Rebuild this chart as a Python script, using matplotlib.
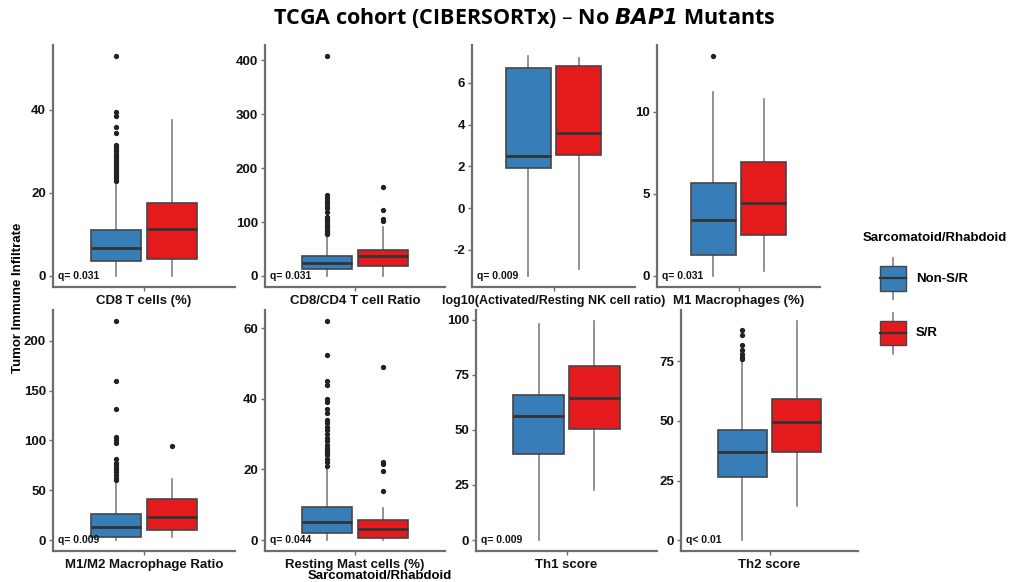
import matplotlib.pyplot as plt
from matplotlib.patches import Rectangle, Patch
from matplotlib.lines import Line2D
from matplotlib.legend_handler import HandlerBase

# -----------------------------
# Data
# -----------------------------
panel_names = ["CD8 T cells (%)", "CD8/CD4 T cell Ratio",
               "log10(Activated/Resting NK cell ratio)", "M1 Macrophages (%)",
               "M1/M2 Macrophage Ratio", "Resting Mast cells (%)",
               "Th1 score", "Th2 score"]
q_labels = ["q= 0.031", "q= 0.031", "q= 0.009", "q= 0.031",
            "q= 0.009", "q= 0.044", "q= 0.009", "q< 0.01"]
y_ticks = [[0, 20, 40], [0, 100, 200, 300, 400], [-2, 0, 2, 4, 6], [0, 5, 10],
           [0, 50, 100, 150, 200], [0, 20, 40, 60], [0, 25, 50, 75, 100],
           [0, 25, 50, 75]]

# (whislo, q1, median, q3, whishi)
nonsr_stats = [(0, 3.6, 6.7, 11.0, 22.5),
               (0, 13.5, 24, 38, 76),
               (-3.25, 1.9, 2.51, 6.72, 7.28),
               (0, 1.25, 3.44, 5.66, 11.23),
               (0, 3.3, 13, 25.9, 57),
               (0, 1.9, 5.1, 9.4, 20.8),
               (0, 39.2, 56.4, 66, 97.9),
               (0, 26.3, 36.9, 46.2, 75.2)]
sr_stats = [(0, 4.0, 11.4, 17.7, 37.7),
            (0, 17.7, 38, 48, 90.5),
            (-2.93, 2.56, 3.59, 6.82, 7.19),
            (0.28, 2.51, 4.45, 6.96, 10.81),
            (2.7, 10, 23.3, 40.9, 60.8),
            (0, 0.7, 3.0, 5.6, 9.1),
            (22.6, 50.2, 64.5, 79, 99.4),
            (14.5, 36.8, 49.7, 59.1, 92)]
nonsr_fliers = [[23, 23.5, 24, 24.5, 25, 25.5, 26, 26.5, 27, 27.5, 28, 28.5, 29,
                 29.5, 30, 30.5, 31, 31.5, 34.5, 36, 38.5, 39.5, 53],
                [78, 80, 83, 86, 90, 93, 96, 100, 103, 106, 110, 118, 126, 130,
                 135, 140, 145, 150, 408],
                [],
                [13.4],
                [60, 62, 65, 68, 70, 72, 75, 77, 81, 97, 100, 103, 132, 160, 220],
                [21, 22, 23, 24, 25, 25.5, 26, 27, 28, 29, 30, 31, 32, 33, 34, 36,
                 37, 39, 40, 44, 45, 52.5, 62],
                [],
                [76, 77, 78, 80, 82, 86, 88]]
sr_fliers = [[], [102, 106, 122, 165], [], [], [94], [14, 19.5, 21.5, 22, 49], [], []]

group_labels = ["Non-S/R", "S/R"]
group_colors = ["#377EB8", "#E41A1C"]

# -----------------------------
# Layout (pixel boxes of each panel: left, right, top, bottom)
# -----------------------------
W, H = 1018, 582
boxes_px = [(53, 235, 45, 287), (265, 445, 45, 287), (472, 635, 45, 287), (657, 820, 45, 287),
            (53, 235, 310, 551), (265, 445, 310, 551), (476, 657, 310, 551), (681, 858, 310, 551)]
label_sizes = [9.5, 9.5, 9.0, 9.5, 9.5, 9.5, 9.5, 9.5]

plt.rcParams['font.family'] = ['Liberation Sans', 'DejaVu Sans']
plt.rcParams['font.weight'] = 'bold'
plt.rcParams['axes.unicode_minus'] = False

fig = plt.figure(figsize=(W / 100, H / 100), dpi=100)

spine_col = "#6e6e6e"
edge_col = "#454545"
whisk_col = "#7f7f7f"

for i in range(8):
    l, r, t, b = boxes_px[i]
    ax = fig.add_axes([l / W, 1 - b / H, (r - l) / W, (b - t) / H])

    stats = []
    for s, fl in [(nonsr_stats[i], nonsr_fliers[i]), (sr_stats[i], sr_fliers[i])]:
        stats.append(dict(whislo=s[0], q1=s[1], med=s[2], q3=s[3], whishi=s[4], fliers=fl))

    bp = ax.bxp(stats, positions=[0.815, 1.185], widths=0.335, patch_artist=True,
                showcaps=False,
                boxprops=dict(edgecolor=edge_col, linewidth=1.2),
                medianprops=dict(color="#333333", linewidth=2.0),
                whiskerprops=dict(color=whisk_col, linewidth=1.2),
                flierprops=dict(marker='o', markersize=2.8, markerfacecolor='#222222',
                                markeredgecolor='#222222'))
    for patch, c in zip(bp['boxes'], group_colors):
        patch.set_facecolor(c)
    for w in bp['whiskers']:
        w.set_zorder(0.5)

    # ggplot-like 5% expansion
    vals = [v for s in stats for v in (s['whislo'], s['whishi'])] + \
           [v for s in stats for v in s['fliers']]
    lo, hi = min(vals), max(vals)
    pad = 0.05 * (hi - lo)
    ax.set_ylim(lo - pad, hi + pad)
    ax.set_xlim(0.4, 1.6)
    ax.set_yticks(y_ticks[i])
    ax.set_xticks([1])
    ax.set_xticklabels([panel_names[i]], fontsize=label_sizes[i], fontweight='bold')
    ax.tick_params(axis='y', length=3, width=1, color=spine_col, labelsize=9.5,
                   pad=2, labelcolor='#111111')
    ax.tick_params(axis='x', length=3, width=1, color=spine_col, pad=3,
                   labelcolor='#111111')
    for sp in ['top', 'right']:
        ax.spines[sp].set_visible(False)
    for sp in ['left', 'bottom']:
        ax.spines[sp].set_color(spine_col)
        ax.spines[sp].set_linewidth(1.6)

    # q value sits at the lowest data value, next to the axis
    ax.text(0.03, lo, q_labels[i], transform=ax.get_yaxis_transform(), fontsize=7.5,
            fontweight='bold', va='center', ha='left', color='#111111')


# legend key that looks like a small boxplot
class BoxKey(HandlerBase):
    def create_artists(self, legend, orig_handle, xdescent, ydescent, width, height,
                       fontsize, trans):
        x0, y0 = -xdescent, -ydescent
        bx = x0 + width * 17 / 43
        bw = width - (bx - x0)
        cx = bx + bw / 2
        bh = height * 0.6
        by = y0 + (height - bh) / 2
        whisk = Line2D([cx, cx], [y0, y0 + height], color=whisk_col, lw=1.2,
                       transform=trans)
        rect = Rectangle((bx, by), bw, bh, facecolor=orig_handle.get_facecolor(),
                         edgecolor=edge_col, lw=1.0, transform=trans)
        med = Line2D([bx, bx + bw], [y0 + height / 2] * 2, color="#333333",
                     lw=1.6, transform=trans)
        return [whisk, rect, med]


handles = [Patch(facecolor=c) for c in group_colors]
leg = fig.legend(handles, group_labels, handler_map={Patch: BoxKey()},
                 title="Sarcomatoid/Rhabdoid", loc='upper left',
                 bbox_to_anchor=(851 / W, 1 - 220 / H), frameon=False,
                 fontsize=9.5, title_fontproperties={'weight': 'bold', 'size': 9.5},
                 handlelength=3.26, handleheight=4.4, labelspacing=1.05,
                 handletextpad=0.75, alignment='left')
for txt in leg.get_texts():
    txt.set_fontweight('bold')

fig.text(18 / W, 1 - 298 / H, "Tumor Immune Infiltrate", rotation=90, fontsize=9.5,
         fontweight='bold', ha='center', va='center')
fig.text(380 / W, 1 - 576 / H, "Sarcomatoid/Rhabdoid", fontsize=9.5,
         fontweight='bold', ha='center', va='center')

fig.text(524 / W, 1 - 18 / H, r"TCGA cohort (CIBERSORTx) – No $\bfit{BAP1}$ Mutants",
         fontsize=15.5, fontweight='bold', ha='center', va='center',
         family=['Open Sans', 'DejaVu Sans'])

fig.savefig("out.png", dpi=100, facecolor='white')
